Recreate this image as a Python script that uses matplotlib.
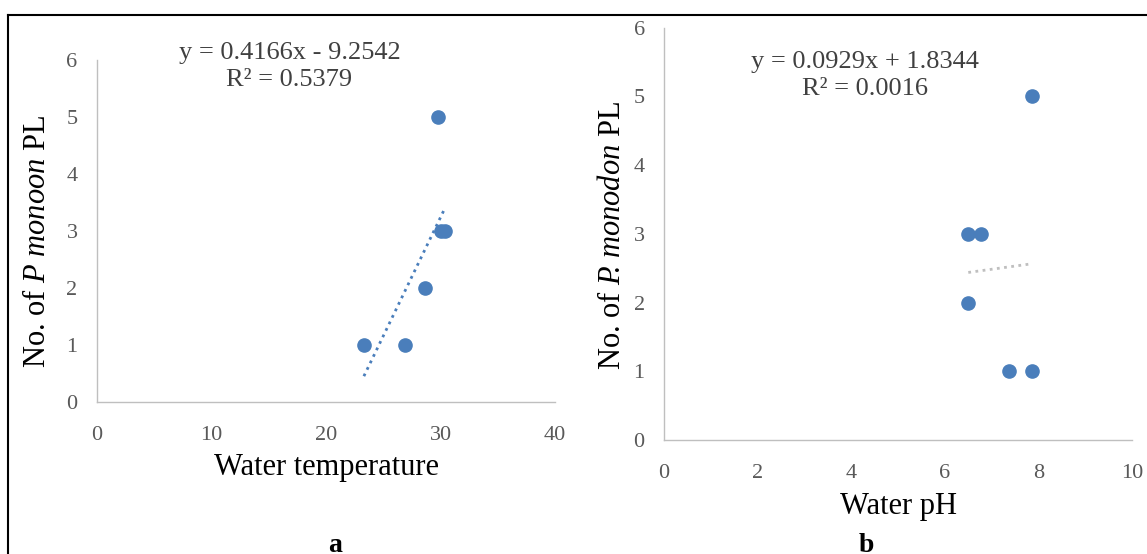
import matplotlib.pyplot as plt
import numpy as np

# panel a: water temperature vs no. of P. monodon PL
temp_x = [23.3, 26.9, 28.6, 29.8, 30.0, 30.4]
temp_y = [1, 1, 2, 5, 3, 3]
temp_fit = (0.4166, -9.2542)
temp_r2 = 0.5379

# panel b: water pH vs no. of P. monodon PL
ph_x = [6.5, 6.77, 6.5, 7.87, 7.37, 7.87]
ph_y = [3, 3, 2, 5, 1, 1]
ph_fit = (0.0929, 1.8344)
ph_r2 = 0.0016

plt.rcParams['font.family'] = ['Liberation Serif', 'DejaVu Serif']
plt.rcParams['mathtext.fontset'] = 'custom'
plt.rcParams['mathtext.rm'] = 'Liberation Serif'
plt.rcParams['mathtext.it'] = 'Liberation Serif:italic'
blue = '#4A7EBB'
tick_col = '#595959'
spine_col = '#BFBFBF'

fig = plt.figure(figsize=(11.47, 5.54), dpi=100)


def style(ax):
    for s in ['top', 'right']:
        ax.spines[s].set_visible(False)
    for s in ['left', 'bottom']:
        ax.spines[s].set_color(spine_col)
        ax.spines[s].set_linewidth(1.0)
    ax.tick_params(length=0, labelsize=16, labelcolor=tick_col)
    ax.tick_params(axis='x', pad=17)
    ax.tick_params(axis='y', pad=14)


def eq_label(slope, icpt, r2):
    sign = '-' if icpt < 0 else '+'
    return f'y = {slope:.4f}x {sign} {abs(icpt):.4f}\nR² = {r2:.4f}'


# --- a ---
ax1 = fig.add_axes([0.0846, 0.2744, 0.3994, 0.6173])
style(ax1)
ax1.set_xlim(0, 40)
ax1.set_ylim(0, 6)
ax1.set_xticks(range(0, 41, 10))
ax1.set_yticks(range(0, 7))
xs = np.array([min(temp_x), max(temp_x)])
ax1.plot(xs, temp_fit[0] * xs + temp_fit[1], linestyle=(0, (1, 1.6)), color=blue, lw=2)
ax1.plot(temp_x, temp_y, 'o', color=blue, ms=9.5, clip_on=False)
ax1.text(0.42, 0.98, eq_label(*temp_fit, temp_r2), transform=ax1.transAxes,
         ha='center', va='center', fontsize=19, color='#404040', linespacing=1.3)
ax1.set_xlabel('Water temperature', fontsize=22, va='center')
ax1.xaxis.set_label_coords(0.5, -0.193)
ax1.set_ylabel('No. of $\\mathit{P\\ monoon}$ PL', fontsize=22, va='center')
ax1.yaxis.set_label_coords(-0.129, 0.47)

# --- b ---
ax2 = fig.add_axes([0.579, 0.2058, 0.408, 0.7442])
style(ax2)
ax2.set_xlim(0, 10)
ax2.set_ylim(0, 6)
ax2.set_xticks(range(0, 11, 2))
ax2.set_yticks(range(0, 7))
xs = np.array([min(ph_x), max(ph_x)])
ax2.plot(xs, ph_fit[0] * xs + ph_fit[1], linestyle=(0, (1, 1.6)), color='#BFBFBF', lw=2)
ax2.plot(ph_x, ph_y, 'o', color=blue, ms=9.5, clip_on=False)
ax2.text(0.43, 0.883, eq_label(*ph_fit, ph_r2), transform=ax2.transAxes,
         ha='center', va='center', fontsize=19, color='#404040', linespacing=1.3)
ax2.set_xlabel('Water pH', fontsize=22, va='center')
ax2.xaxis.set_label_coords(0.5, -0.162)
ax2.set_ylabel('No. of $\\mathit{P}\\!\\!$. $\\mathit{monodon}$ PL', fontsize=22, va='center')
ax2.yaxis.set_label_coords(-0.111, 0.497)

# panel letters
fig.text(335 / 1147, 1 - 546 / 554, 'a', fontsize=20, fontweight='bold', ha='center', va='center')
fig.text(866 / 1147, 1 - 546 / 554, 'b', fontsize=20, fontweight='bold', ha='center', va='center')

# frame lines (top and left)
fig.add_artist(plt.Line2D([8 / 1147, 1], [1 - 15 / 554] * 2, transform=fig.transFigure, color='black', lw=1.5))
fig.add_artist(plt.Line2D([8 / 1147] * 2, [0, 1 - 15 / 554], transform=fig.transFigure, color='black', lw=1.5))

fig.savefig('out.png', dpi=100)
